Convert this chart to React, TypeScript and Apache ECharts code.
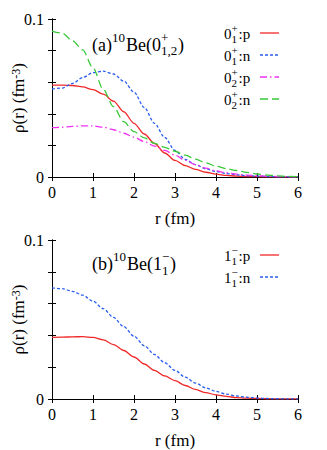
import React, { useEffect, useRef } from "react";
import * as echarts from "echarts";

// radius grid (fm)
const rValues = [0, 0.25, 0.5, 0.75, 1, 1.25, 1.5, 1.75, 2, 2.25, 2.5, 2.75, 3, 3.25, 3.5, 3.75, 4, 4.25, 4.5, 4.75, 5, 5.25, 5.5, 5.75, 6];

// panel (a): 10Be(0+_{1,2})
const p01 = [0.0582, 0.0582, 0.0579, 0.057, 0.0553, 0.0524, 0.048, 0.0413, 0.034, 0.0272, 0.0212, 0.0152, 0.0105, 0.0072, 0.0048, 0.003, 0.0018, 0.001, 0.0006, 0.0003, 0.0002, 0.0001, 0.00005, 0.00002, 0.00001];
const n01 = [0.0557, 0.0563, 0.0592, 0.063, 0.066, 0.067, 0.0652, 0.0607, 0.0537, 0.044, 0.034, 0.025, 0.0168, 0.0112, 0.0078, 0.0052, 0.0035, 0.0022, 0.0014, 0.0008, 0.0005, 0.0003, 0.00015, 0.00008, 0.00004];
const p02 = [0.0312, 0.0315, 0.032, 0.0324, 0.0323, 0.0315, 0.0299, 0.0277, 0.0252, 0.0224, 0.0196, 0.0168, 0.0138, 0.0105, 0.0078, 0.0056, 0.0039, 0.0027, 0.0018, 0.0012, 0.0008, 0.0005, 0.0003, 0.00015, 0.0001];
const n02 = [0.0924, 0.091, 0.0862, 0.0804, 0.069, 0.0555, 0.0445, 0.035, 0.0287, 0.0248, 0.0213, 0.0188, 0.0163, 0.0138, 0.0113, 0.009, 0.0068, 0.0053, 0.0041, 0.0029, 0.0019, 0.0012, 0.0007, 0.0004, 0.0002];

// panel (b): 10Be(1-_1)
const p11 = [0.0388, 0.0389, 0.0391, 0.0392, 0.0387, 0.0372, 0.0342, 0.0305, 0.0264, 0.022, 0.018, 0.0145, 0.0115, 0.0085, 0.006, 0.004, 0.0026, 0.0016, 0.0009, 0.0005, 0.0003, 0.00015, 0.0001, 0.00005, 0.00002];
const n11 = [0.0699, 0.0694, 0.0677, 0.0653, 0.0615, 0.0568, 0.0513, 0.0455, 0.0395, 0.0335, 0.028, 0.0228, 0.018, 0.0137, 0.01, 0.007, 0.0048, 0.0031, 0.0019, 0.0011, 0.0006, 0.0003, 0.00015, 0.00008, 0.00004];

// axis settings
const xMin = 0;
const xMax = 6;
const xInterval = 1;
const yMin = 0;
const yMax = 0.1;
const yInterval = 0.02;
const yLabelShown = ["0", "0.1"];
const xName = "r (fm)";
const yNameMain = "\u03c1(r) (fm";
const yNameSup = "-3";
const yNameEnd = ")";

// legend text parts: [base, sup, sub, suffix]
const legendA = [
  ["0", "+", "1", ":p"],
  ["0", "+", "1", ":n"],
  ["0", "+", "2", ":p"],
  ["0", "+", "2", ":n"],
];
const legendB = [
  ["1", "\u2212", "1", ":p"],
  ["1", "\u2212", "1", ":n"],
];

const FONT = "Liberation Serif";
const RED = "#f02828";
const BLUE = "#2a5ef0";
const MAGENTA = "#f030f0";
const GREEN = "#38c838";

const DASH_SOLID: any = "solid";
const DASH_BLUE = [3, 2];
const DASH_MAG = [7, 3, 1.5, 3];
const DASH_GREEN = [8, 4];

export default function App() {
  const ref = useRef<HTMLDivElement>(null);

  useEffect(() => {
    if (!ref.current) return;
    const chart = echarts.init(ref.current, undefined, { renderer: "svg" });

    const pairs = (vals: number[]) => rValues.map((r, i) => [r, vals[i]]);

    const gridA = { left: 52, top: 19, width: 246, height: 158, containLabel: false, outerBoundsMode: "none" };
    const gridB = { left: 52, top: 240, width: 246, height: 159, containLabel: false, outerBoundsMode: "none" };

    const tickStyle = { show: true, inside: true, length: 4, lineStyle: { color: "#000", width: 1 } };
    const lineAx = { show: true, lineStyle: { color: "#000", width: 1 } };

    const makeX = (gi: number, top: boolean) => ({
      type: "value",
      gridIndex: gi,
      position: top ? "top" : "bottom",
      min: xMin,
      max: xMax,
      interval: xInterval,
      axisLine: lineAx,
      axisTick: tickStyle,
      splitLine: { show: false },
      axisLabel: top
        ? { show: false }
        : { show: true, color: "#000", fontFamily: FONT, fontSize: 16, fontWeight: "normal", margin: 7 },
      name: top ? "" : xName,
      nameLocation: "middle",
      nameGap: 33,
      nameMoveOverlap: false,
      nameTextStyle: { color: "#000", fontFamily: FONT, fontSize: 17, fontWeight: "normal" },
    });

    const yFmt = (v: number) => {
      if (Math.abs(v - yMin) < 1e-9) return yLabelShown[0];
      if (Math.abs(v - yMax) < 1e-9) return yLabelShown[1];
      return "";
    };

    const makeY = (gi: number, right: boolean) => ({
      type: "value",
      gridIndex: gi,
      position: right ? "right" : "left",
      min: yMin,
      max: yMax,
      interval: yInterval,
      axisLine: lineAx,
      axisTick: tickStyle,
      splitLine: { show: false },
      axisLabel: right
        ? { show: false }
        : { show: true, color: "#000", fontFamily: FONT, fontSize: 16, fontWeight: "normal", margin: 8, formatter: yFmt },
      name: right ? "" : `${yNameMain}{sup|${yNameSup}}${yNameEnd}`,
      nameLocation: "middle",
      nameRotate: 90,
      nameGap: 25,
      nameMoveOverlap: false,
      nameTextStyle: {
        color: "#000",
        fontFamily: FONT,
        fontSize: 17,
        fontWeight: "normal",
        rich: {
          sup: {
            fontFamily: FONT,
            fontSize: 12,
            color: "#000",
            lineHeight: 12,
            verticalAlign: "top",
            padding: [0, 0, 12, 0],
          },
        },
      },
    });

    const mkSeries = (name: string, data: number[], gi: number, color: string, dash: any) => ({
      name,
      type: "line",
      xAxisIndex: gi * 2,
      yAxisIndex: gi * 2,
      data: pairs(data),
      showSymbol: false,
      symbol: "none",
      smooth: 0.3,
      smoothMonotone: "x",
      lineStyle: { color, width: 1.3, type: dash },
      itemStyle: { color },
      z: 3,
    });

    const txt = (x: number, y: number, text: string, size: number, align = "left") => ({
      type: "text",
      x,
      y,
      silent: true,
      style: {
        text,
        x: 0,
        y: 0,
        fill: "#000",
        fontFamily: FONT,
        fontSize: size,
        align,
        verticalAlign: "middle",
      },
    });

    const sample = (x1: number, x2: number, y: number, color: string, dash: any) => ({
      type: "line",
      silent: true,
      shape: { x1, y1: y, x2, y2: y },
      style: { stroke: color, lineWidth: 1.3, lineDash: dash === "solid" ? null : dash },
    });

    const legendEntry = (parts: string[], rowY: number, color: string, dash: any) => {
      const x0 = 224;
      const baseW = 7.5;
      const scrW = 7;
      return [
        txt(x0, rowY + 1, parts[0], 15),
        txt(x0 + baseW, rowY - 5.5, parts[1], 11),
        txt(x0 + baseW, rowY + 6, parts[2], 11),
        txt(x0 + baseW + scrW, rowY + 1, parts[3], 15),
        sample(260, 279, rowY, color, dash),
      ];
    };

    const colorsA = [RED, BLUE, MAGENTA, GREEN];
    const dashesA = [DASH_SOLID, DASH_BLUE, DASH_MAG, DASH_GREEN];
    const rowsA = [33, 55, 77, 99];
    const rowsB = [255, 277];

    const graphics: any[] = [];
    legendA.forEach((p, i) => graphics.push(...legendEntry(p, rowsA[i], colorsA[i], dashesA[i])));
    legendB.forEach((p, i) => graphics.push(...legendEntry(p, rowsB[i], colorsA[i], dashesA[i])));

    // annotation (a)
    const aY = 44.5;
    graphics.push(txt(92, aY, "(a)", 18));
    graphics.push(txt(112, aY - 7.5, "10", 13));
    graphics.push(txt(126, aY, "Be(0", 18));
    graphics.push(txt(161, aY - 7.5, "+", 13));
    graphics.push(txt(161, aY + 6, "1,2", 13));
    graphics.push(txt(178, aY, ")", 18));
    // annotation (b)
    const bY = 264;
    graphics.push(txt(92, bY, "(b)", 18));
    graphics.push(txt(113, bY - 7.5, "10", 13));
    graphics.push(txt(127, bY, "Be(1", 18));
    graphics.push(txt(162, bY - 7.5, "\u2212", 13));
    graphics.push(txt(162, bY + 6, "1", 13));
    graphics.push(txt(170, bY, ")", 18));

    chart.setOption({
      animation: false,
      backgroundColor: "#fff",
      textStyle: { fontFamily: FONT },
      grid: [gridA, gridB],
      xAxis: [makeX(0, false), makeX(0, true), makeX(1, false), makeX(1, true)],
      yAxis: [makeY(0, false), makeY(0, true), makeY(1, false), makeY(1, true)],
      series: [
        mkSeries("0+1:p", p01, 0, RED, DASH_SOLID),
        mkSeries("0+1:n", n01, 0, BLUE, DASH_BLUE),
        mkSeries("0+2:p", p02, 0, MAGENTA, DASH_MAG),
        mkSeries("0+2:n", n02, 0, GREEN, DASH_GREEN),
        mkSeries("1-1:p", p11, 1, RED, DASH_SOLID),
        mkSeries("1-1:n", n11, 1, BLUE, DASH_BLUE),
      ],
      graphic: graphics,
    });

    return () => chart.dispose();
  }, []);

  return (
    <div
      ref={ref}
      style={{ position: "absolute", left: 0, top: 0, width: 327, height: 450, background: "#fff" }}
    />
  );
}
